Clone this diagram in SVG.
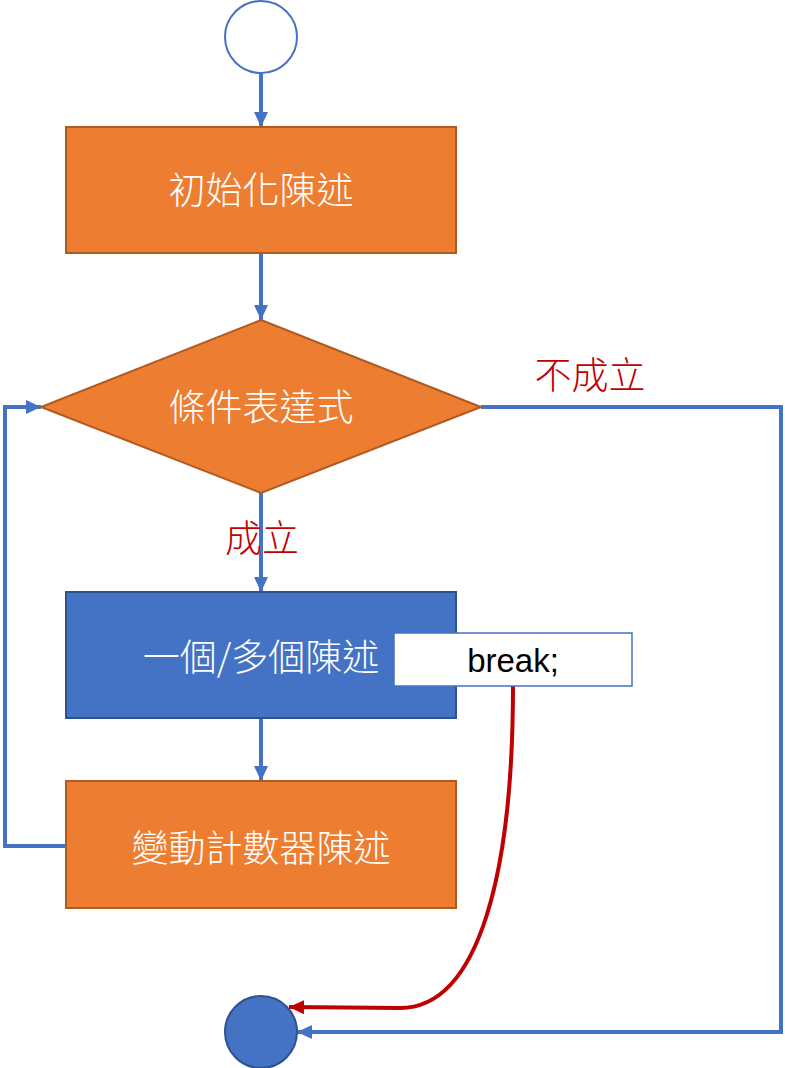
<svg xmlns="http://www.w3.org/2000/svg" width="785" height="1068" viewBox="0 0 785 1068">
<defs>
<style>
.orange{fill:#ED7D31;stroke:#AE5A21;stroke-width:2}
.blue{fill:#4472C4;stroke:#2F528F;stroke-width:2}
.ntext{font-family:"Noto Sans CJK TC","Noto Sans CJK SC",sans-serif;font-size:37px;font-weight:300;fill:#FFFFFF;text-anchor:middle}
.label{font-family:"Noto Sans CJK TC","Noto Sans CJK SC",sans-serif;font-size:37px;font-weight:300;fill:#C00000;text-anchor:middle}
.conn{fill:none;stroke:#4472C4;stroke-width:4}
.red{fill:none;stroke:#C00000;stroke-width:4}
</style>
<marker id="ab" markerUnits="userSpaceOnUse" markerWidth="16" markerHeight="16" viewBox="0 0 16 16" refX="15" refY="8" orient="auto">
<path d="M0,1 L15,8 L0,15 Z" fill="#4472C4"/>
</marker>
<marker id="ar" markerUnits="userSpaceOnUse" markerWidth="16" markerHeight="16" viewBox="0 0 16 16" refX="15" refY="8" orient="auto">
<path d="M0,1 L15,8 L0,15 Z" fill="#C00000"/>
</marker>
</defs>
<rect width="785" height="1068" fill="#FFFFFF"/>
<g id="connectors">
<line class="conn" x1="261" y1="73" x2="261" y2="127" marker-end="url(#ab)"/>
<line class="conn" x1="261" y1="253" x2="261" y2="320" marker-end="url(#ab)"/>
<line class="conn" x1="261" y1="493" x2="261" y2="592" marker-end="url(#ab)"/>
<line class="conn" x1="261" y1="718" x2="261" y2="781" marker-end="url(#ab)"/>
<polyline class="conn" points="66,846 5,846 5,407 41,407" marker-end="url(#ab)"/>
<polyline class="conn" points="481,407 781,407 781,1032 297,1032" marker-end="url(#ab)"/>
<path class="red" d="M513,686 C513,870 480,1008 400,1008 L289,1007" marker-end="url(#ar)"/>
</g>
<g id="start"><circle cx="261" cy="37" r="36" fill="#FFFFFF" stroke="#4472C4" stroke-width="2"/></g>
<g id="init"><rect class="orange" x="66" y="127" width="390" height="126"/><text class="ntext" x="261" y="204">初始化陳述</text></g>
<g id="cond"><polygon class="orange" points="261,320 481,407 261,493 41,407"/><text class="ntext" x="261" y="421">條件表達式</text></g>
<g id="body"><rect class="blue" x="66" y="592" width="390" height="126"/><text class="ntext" x="261" y="671">一個/多個陳述</text></g>
<g id="break"><rect x="394" y="633" width="238" height="53" fill="#FFFFFF" stroke="#4472C4" stroke-width="1.5"/><text x="513" y="672" font-family="Liberation Sans, Arial, sans-serif" font-size="33" fill="#000000" text-anchor="middle">break;</text></g>
<g id="update"><rect class="orange" x="66" y="781" width="390" height="127"/><text class="ntext" x="261" y="862">變動計數器陳述</text></g>
<g id="end"><circle cx="261" cy="1032" r="36" class="blue"/></g>
<g id="labels">
<text class="label" x="590" y="389">不成立</text>
<text class="label" x="262" y="552">成立</text>
</g>
</svg>
